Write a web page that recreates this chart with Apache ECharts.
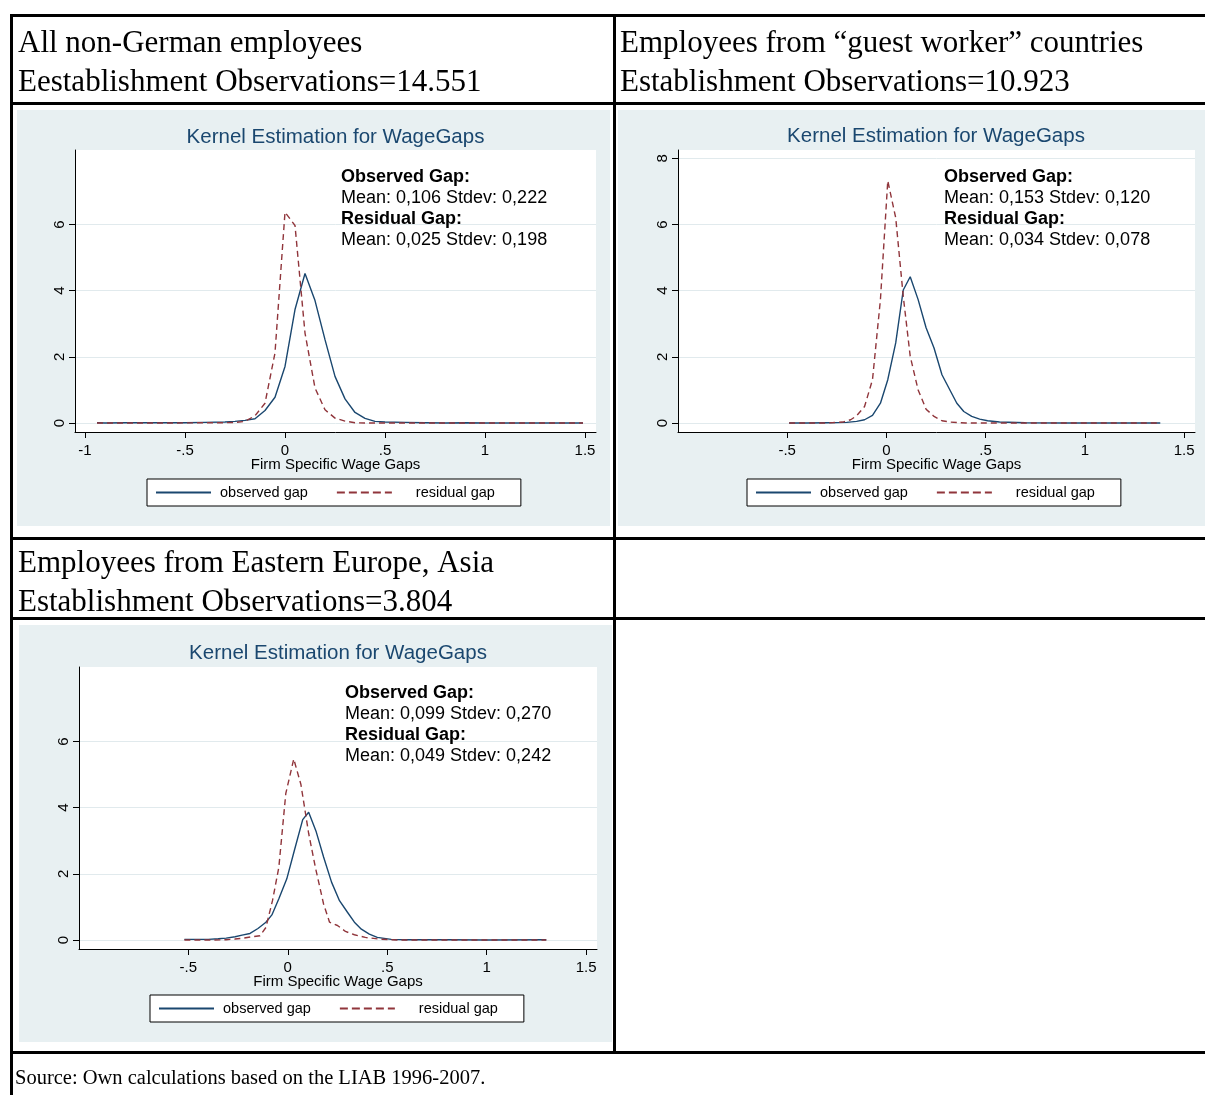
<!DOCTYPE html>
<html><head><meta charset="utf-8">
<script src="https://cdn.jsdelivr.net/npm/echarts@6/dist/echarts.min.js"></script>
<style>html,body{margin:0;padding:0;background:#fff;}#c{width:1205px;height:1095px;}</style>
</head><body><div id="c"></div>
<script>
// ---------- data ----------
const headerLines = [
  ['All non-German employees', 'Eestablishment Observations=14.551'],
  ['Employees from \u201cguest worker\u201d countries', 'Establishment Observations=10.923'],
  ['Employees from Eastern Europe, Asia', 'Establishment Observations=3.804']
];
const chartTitle = 'Kernel Estimation for WageGaps';
const xAxisTitle = 'Firm Specific Wage Gaps';
const seriesNames = ['observed gap', 'residual gap'];
const obsStats = ['Mean: 0,106 Stdev: 0,222', 'Mean: 0,153 Stdev: 0,120', 'Mean: 0,099 Stdev: 0,270'];
const resStats = ['Mean: 0,025 Stdev: 0,198', 'Mean: 0,034 Stdev: 0,078', 'Mean: 0,049 Stdev: 0,242'];
const sourceNote = 'Source: Own calculations based on the LIAB 1996-2007.';

const xTicks1 = [-1, -0.5, 0, 0.5, 1, 1.5];
const xTickLabels1 = ['-1', '-.5', '0', '.5', '1', '1.5'];
const xTicks23 = [-0.5, 0, 0.5, 1, 1.5];
const xTickLabels23 = ['-.5', '0', '.5', '1', '1.5'];
const yTicks13 = [0, 2, 4, 6];
const yTicks2 = [0, 2, 4, 6, 8];

// Panel 1: all non-German employees
const allObsX = [-0.94,-0.9,-0.8,-0.7,-0.6,-0.5,-0.4,-0.3,-0.25,-0.2,-0.15,-0.1,-0.05,0,0.05,0.1,0.15,0.2,0.25,0.3,0.35,0.4,0.45,0.5,0.6,0.7,0.8,0.9,1.0,1.1,1.2,1.3,1.4,1.49];
const allObsY = [0.01,0.0,0.01,0.01,0.01,0.01,0.02,0.03,0.05,0.08,0.13,0.38,0.78,1.71,3.43,4.52,3.7,2.52,1.41,0.73,0.32,0.14,0.05,0.03,0.02,0.01,0.0,0.01,0.0,0.0,0.0,0.0,0.0,0.0];
const allResX = [-0.94,-0.8,-0.6,-0.4,-0.3,-0.25,-0.2,-0.15,-0.1,-0.05,0,0.05,0.1,0.15,0.2,0.25,0.3,0.35,0.4,0.6,0.8,1.0,1.2,1.49];
const allResY = [0.0,0.0,0.0,0.01,0.01,0.02,0.05,0.22,0.6,2.12,6.37,5.97,2.72,1.06,0.4,0.15,0.06,0.01,0.0,0.0,0.0,0.0,0.0,0.0];

// Panel 2: guest worker countries
const gwObsX = [-0.49,-0.4,-0.3,-0.2,-0.15,-0.11,-0.07,-0.03,0.007,0.047,0.085,0.12,0.16,0.2,0.24,0.28,0.32,0.355,0.39,0.43,0.47,0.51,0.57,0.7,0.9,1.1,1.38];
const gwObsY = [0.0,0.0,0.01,0.02,0.05,0.1,0.23,0.6,1.31,2.42,4.02,4.42,3.73,2.88,2.27,1.46,1.0,0.6,0.35,0.2,0.12,0.07,0.03,0.01,0.0,0.0,0.0];
const gwResX = [-0.49,-0.3,-0.22,-0.18,-0.15,-0.11,-0.07,-0.03,0.007,0.047,0.085,0.12,0.16,0.2,0.24,0.28,0.32,0.4,0.7,1.0,1.38];
const gwResY = [0.0,0.0,0.03,0.1,0.22,0.5,1.31,3.73,7.32,6.2,3.83,2.02,1.0,0.42,0.2,0.07,0.03,0.0,0.0,0.0,0.0];

// Panel 3: Eastern Europe, Asia
const eeObsX = [-0.52,-0.45,-0.4,-0.35,-0.31,-0.265,-0.23,-0.19,-0.15,-0.11,-0.08,-0.045,-0.005,0.034,0.075,0.105,0.143,0.18,0.22,0.26,0.3,0.335,0.37,0.41,0.45,0.52,0.6,0.8,1.0,1.3];
const eeObsY = [0.02,0.02,0.02,0.04,0.06,0.1,0.15,0.2,0.35,0.54,0.76,1.25,1.85,2.73,3.64,3.86,3.27,2.51,1.75,1.19,0.84,0.54,0.33,0.18,0.08,0.02,0.01,0.01,0.0,0.01];
const eeResX = [-0.52,-0.4,-0.31,-0.265,-0.22,-0.18,-0.14,-0.11,-0.077,-0.045,-0.01,0.03,0.066,0.105,0.14,0.18,0.21,0.25,0.29,0.335,0.39,0.46,0.55,0.8,1.0,1.3];
const eeResY = [0.0,0.0,0.01,0.03,0.06,0.1,0.13,0.38,1.19,2.2,4.43,5.47,4.7,3.22,2.16,1.09,0.54,0.44,0.26,0.16,0.08,0.03,0.0,0.0,0.0,0.0];

// ---------- layout / style ----------
const BLUE = '#1a476f', RED = '#90353b', BG = '#e8f0f2', GRIDC = '#e1eaed';
const SANS = 'Liberation Sans, Arial, sans-serif';
const SERIF = 'Liberation Serif, Times New Roman, serif';
const panels = [
  { bg: [17, 110, 593, 416], grid: { left: 75, top: 150, width: 521, height: 282 }, header: [18, 43.5], title: [335.5, 137], note: [341, 177.5], legend: [147, 479],
    xt: xTicks1, xl: xTickLabels1, yt: yTicks13, obs: [allObsX, allObsY], res: [allResX, allResY] },
  { bg: [618, 110, 587, 416], grid: { left: 678, top: 150, width: 517, height: 282 }, header: [620, 43.5], title: [936, 136], note: [944, 177.5], legend: [747, 479],
    xt: xTicks23, xl: xTickLabels23, yt: yTicks2, obs: [gwObsX, gwObsY], res: [gwResX, gwResY] },
  { bg: [19, 625, 593, 417], grid: { left: 79, top: 667, width: 518, height: 282 }, header: [18, 563.5], title: [338, 653], note: [345, 693.5], legend: [150, 995],
    xt: xTicks23, xl: xTickLabels23, yt: yTicks13, obs: [eeObsX, eeObsY], res: [eeResX, eeResY] }
];
const X_MIN = -1.05, X_MAX = 1.555, Y_MIN = -0.27, Y_MAX = 8.25;

function pts(xs, ys) { return xs.map((x, i) => [x, ys[i]]); }

const grids = [], xAxes = [], yAxes = [], series = [], legends = [], graphics = [];

// table borders
const lines = [
  [10, 14, 1195, 3], [10, 102, 1195, 3], [10, 537, 1195, 3], [10, 617, 1195, 3], [10, 1051, 1195, 3],
  [10, 14, 3, 1081], [613, 14, 3, 1040]
];
lines.forEach(l => graphics.push({ type: 'rect', shape: { x: l[0], y: l[1], width: l[2], height: l[3] }, style: { fill: '#000' }, z: 10 }));

panels.forEach((p, i) => {
  graphics.push({ type: 'rect', shape: { x: p.bg[0], y: p.bg[1], width: p.bg[2], height: p.bg[3] }, style: { fill: BG }, z: -100 });
  headerLines[i].forEach((t, k) => graphics.push({ type: 'text', x: p.header[0], y: p.header[1] + k * 39,
    style: { text: t, font: '31px ' + SERIF, fill: '#000', textAlign: 'left', textVerticalAlign: 'middle' }, z: 10 }));
  graphics.push({ type: 'text', x: p.title[0], y: p.title[1],
    style: { text: chartTitle, font: '20.5px ' + SANS, fill: BLUE, textAlign: 'center', textVerticalAlign: 'middle' }, z: 10 });
  const noteTexts = [['Observed Gap:', 'bold'], [obsStats[i], 'normal'], ['Residual Gap:', 'bold'], [resStats[i], 'normal']];
  noteTexts.forEach((n, k) => graphics.push({ type: 'text', x: p.note[0], y: p.note[1] + k * 21,
    style: { text: n[0], font: n[1] + ' 18px ' + SANS, fill: '#000', textAlign: 'left', textVerticalAlign: 'middle' }, z: 10 }));

  grids.push(Object.assign({ show: true, backgroundColor: '#fff', borderWidth: 0, containLabel: false, outerBoundsMode: 'none' }, p.grid));
  const xl = p.xl, xt = p.xt;
  xAxes.push({ type: 'value', gridIndex: i, min: X_MIN, max: X_MAX,
    axisLine: { show: true, onZero: false, lineStyle: { color: '#000', width: 1 } },
    axisTick: { show: true, customValues: xt, length: 6, lineStyle: { color: '#000' } },
    axisLabel: { customValues: xt, formatter: v => xl[xt.indexOf(v)], fontSize: 15, fontFamily: SANS, color: '#000', margin: 11 },
    splitLine: { show: false },
    name: xAxisTitle, nameLocation: 'middle', nameGap: 25, nameMoveOverlap: false,
    nameTextStyle: { fontSize: 15, fontFamily: SANS, color: '#000' } });
  yAxes.push({ type: 'value', gridIndex: i, min: Y_MIN, max: Y_MAX,
    axisLine: { show: true, onZero: false, lineStyle: { color: '#000', width: 1 } },
    axisTick: { show: true, customValues: p.yt, length: 6, lineStyle: { color: '#000' } },
    axisLabel: { customValues: p.yt, rotate: 90, fontSize: 15, fontFamily: SANS, color: '#000', margin: 8 },
    splitLine: { show: true, lineStyle: { color: GRIDC, width: 1 } } });
  series.push({ type: 'line', name: seriesNames[0], xAxisIndex: i, yAxisIndex: i, data: pts(p.obs[0], p.obs[1]),
    symbol: 'none', smooth: false, lineStyle: { color: BLUE, width: 1.4 }, itemStyle: { color: BLUE } });
  series.push({ type: 'line', name: seriesNames[1], xAxisIndex: i, yAxisIndex: i, data: pts(p.res[0], p.res[1]),
    symbol: 'none', smooth: false, lineStyle: { color: RED, width: 1.4, type: [6, 4] }, itemStyle: { color: RED } });
  legends.push({ left: p.legend[0], top: p.legend[1], orient: 'horizontal', itemWidth: 55, itemHeight: 14,
    padding: [6, 26, 6, 8], itemGap: 28, borderColor: '#000', borderWidth: 1, backgroundColor: '#fff',
    selectedMode: false, textStyle: { fontSize: 14.5, fontFamily: SANS, color: '#000' },
    itemStyle: { opacity: 0, color: 'transparent', borderColor: 'transparent', borderWidth: 0 },
    data: [
      { name: seriesNames[0], textStyle: { padding: [0, 0, 0, 4] } },
      { name: seriesNames[1], textStyle: { padding: [0, 0, 0, 19] }, lineStyle: { type: [8, 4] } }
    ] });
});

graphics.push({ type: 'text', x: 15, y: 1079, style: { text: sourceNote, font: '20.5px ' + SERIF, fill: '#000', textAlign: 'left', textVerticalAlign: 'middle' }, z: 10 });

const chart = echarts.init(document.getElementById('c'), null, { renderer: 'canvas' });
chart.setOption({
  animation: false,
  backgroundColor: '#fff',
  grid: grids, xAxis: xAxes, yAxis: yAxes, series: series, legend: legends,
  graphic: { elements: graphics }
});
</script></body></html>
